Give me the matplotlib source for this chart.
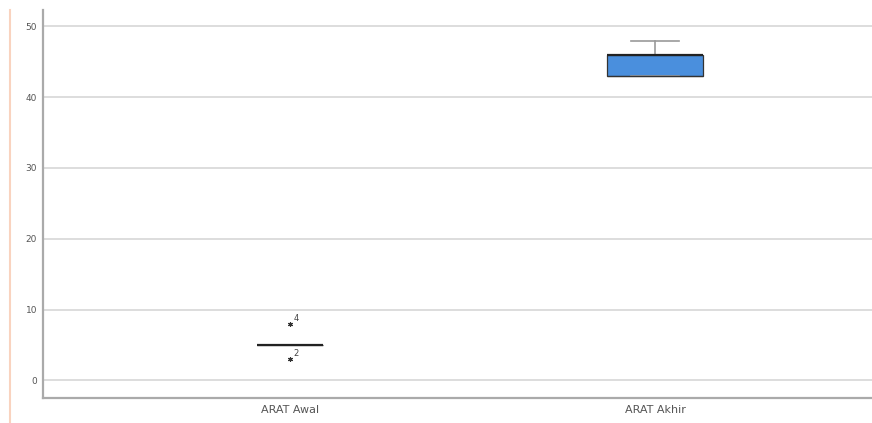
import matplotlib
matplotlib.use("Agg")
import matplotlib.pyplot as plt
from matplotlib.lines import Line2D

# summary statistics per group
groups = ["ARAT Awal", "ARAT Akhir"]
q1 = [5, 43]
median = [5, 46]
q3 = [5, 46]
whisker_lo = [5, 43]
whisker_hi = [5, 48]
outliers = [[3, 8], []]
outlier_ids = [["2", "4"], []]

BOX_FILL = "#4a8fdd"

stats = []
for i, name in enumerate(groups):
    stats.append({
        "label": name, "q1": q1[i], "med": median[i], "q3": q3[i],
        "whislo": whisker_lo[i], "whishi": whisker_hi[i], "fliers": [],
    })

fig = plt.figure(figsize=(8.72, 4.23), dpi=100)
ax = fig.add_axes([0.049, 0.059, 0.96, 0.917])

positions = [1, 2]
ax.bxp(stats, positions=positions, widths=[0.18, 0.263], patch_artist=True,
       showfliers=False,
       boxprops=dict(facecolor=BOX_FILL, edgecolor="#333333", linewidth=0.9),
       medianprops=dict(color="#222222", linewidth=1.6),
       whiskerprops=dict(color="#999999", linewidth=1.2),
       capprops=dict(color="#999999", linewidth=1.2),
       capwidths=[0.09, 0.13], zorder=3)

# the box's lower edge sits on the lower whisker cap
ax.hlines(q1[1], 2 - 0.1315, 2 + 0.1315, color="#333333", linewidth=0.9,
          zorder=4)

# extreme values drawn as asterisks with case numbers
for pos, vals, ids in zip(positions, outliers, outlier_ids):
    for v, cid in zip(vals, ids):
        ax.plot(pos, v, marker=(6, 2, 0), color="#333333", markersize=3.5,
                markeredgewidth=0.8, linestyle="none", zorder=4)
        ax.annotate(cid, (pos, v), xytext=(2.5, 2), textcoords="offset points",
                    fontsize=6, color="#444444")

ax.set_xlim(0.3225, 2.616)
ax.set_ylim(-2.5, 52.3)
ax.set_yticks([0, 10, 20, 30, 40, 50])
ax.set_xticks(positions)
ax.set_xticklabels(groups)
ax.tick_params(axis="y", length=0, labelsize=6.5, labelcolor="#555555", pad=4)
ax.tick_params(axis="x", length=0, labelsize=8, labelcolor="#555555", pad=5)
ax.grid(axis="y", color="#dddddd", linewidth=1.4, zorder=0)
ax.set_axisbelow(True)
for side in ("top", "right"):
    ax.spines[side].set_visible(False)
for side in ("left", "bottom"):
    ax.spines[side].set_color("#aaaaaa")
    ax.spines[side].set_linewidth(1.6)

fig.add_artist(Line2D([0.0115, 0.0115], [0.0, 0.976], color="#f9d3bf",
                      linewidth=1.5, transform=fig.transFigure))

fig.savefig("out.png", dpi=100)
